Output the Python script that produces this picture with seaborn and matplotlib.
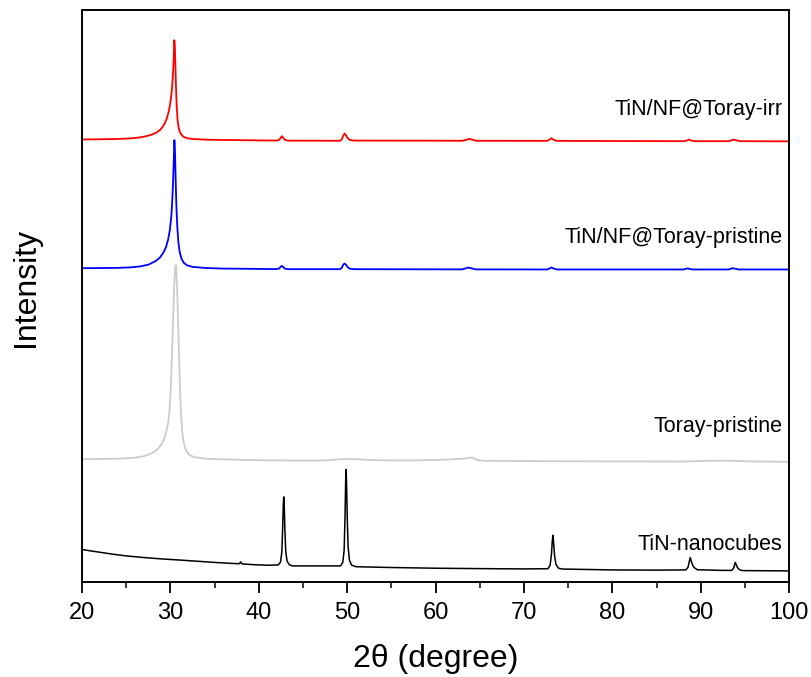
import numpy as np
import pandas as pd
import matplotlib
matplotlib.use("Agg")
import matplotlib.pyplot as plt
from matplotlib.ticker import MultipleLocator
import seaborn as sns

# ------------------------------------------------------------------
# Data (2theta in degree, intensity in arbitrary offset units)
# ------------------------------------------------------------------
tt_irr = [20.0, 22.0, 24.0, 25.5, 26.5, 27.3, 27.9, 28.4, 28.8, 29.1, 29.4, 29.6,
          29.8, 29.95, 30.1, 30.2, 30.3, 30.38, 30.44, 30.5, 30.56, 30.62, 30.7, 30.8,
          30.92, 31.05, 31.25, 31.5, 31.9, 32.5, 34.0, 36.0,
          42.0, 42.3, 42.45, 42.6, 42.75, 42.95, 43.3,
          49.2, 49.4, 49.55, 49.7, 49.85, 50.05, 50.3, 50.8,
          63.0, 63.5, 63.8, 64.1, 64.6,
          72.6, 72.9, 73.1, 73.3, 73.7,
          88.2, 88.5, 88.65, 88.85, 89.2,
          93.2, 93.5, 93.75, 94.0, 94.4, 100.0]
int_irr = [442.7, 442.9, 443.2, 443.8, 444.7, 446.0, 447.6, 449.5, 452.0, 455.0, 459.5, 464.0,
           470.5, 477.0, 487.0, 496.0, 510.0, 526.0, 542.0, 536.0, 518.0, 498.0, 478.0, 463.0,
           455.0, 450.5, 447.3, 445.3, 444.0, 443.2, 442.5, 442.2,
           441.6, 442.3, 444.0, 446.0, 444.5, 442.3, 441.5,
           441.4, 443.0, 446.5, 448.7, 447.0, 444.0, 442.2, 441.6,
           441.4, 442.4, 443.3, 442.6, 441.4,
           441.3, 442.6, 444.0, 442.6, 441.3,
           441.0, 442.0, 442.6, 441.9, 441.0,
           441.0, 442.0, 442.6, 441.9, 441.0, 440.8]

tt_pris = [20.0, 24.0, 25.5, 26.6, 27.5, 28.3, 28.8, 29.2, 29.5, 29.75, 29.95, 30.1,
           30.2, 30.3, 30.38, 30.45, 30.52, 30.6, 30.68, 30.78, 30.9, 31.05, 31.25, 31.5,
           31.9, 32.5, 34.0, 36.0,
           42.0, 42.3, 42.45, 42.6, 42.75, 42.95, 43.3,
           49.2, 49.4, 49.55, 49.7, 49.85, 50.05, 50.3, 50.8,
           63.0, 63.4, 63.7, 64.0, 64.5,
           72.6, 72.9, 73.1, 73.3, 73.7,
           88.0, 88.3, 88.5, 88.7, 89.0,
           93.1, 93.4, 93.6, 93.85, 94.3, 100.0]
int_pris = [314.0, 314.3, 314.8, 315.8, 317.5, 321.0, 324.5, 329.5, 335.0, 343.0, 353.0, 366.0,
            380.0, 400.0, 422.0, 442.0, 430.0, 400.0, 375.0, 355.0, 340.0, 330.0, 323.5, 319.5,
            316.8, 315.3, 314.2, 313.6,
            313.1, 313.7, 315.2, 316.3, 315.3, 313.6, 313.0,
            313.0, 314.6, 317.5, 318.7, 317.6, 315.0, 313.4, 313.0,
            312.8, 313.8, 314.6, 314.0, 312.8,
            312.7, 313.8, 314.7, 313.8, 312.7,
            312.7, 313.3, 313.8, 313.4, 312.7,
            312.7, 313.4, 314.0, 313.5, 312.7, 312.7]

tt_toray = [20.0, 24.0, 26.0, 27.2, 28.0, 28.6, 29.0, 29.3, 29.55, 29.75, 29.9, 30.05,
            30.15, 30.25, 30.35, 30.45, 30.55, 30.62, 30.7, 30.8, 30.9, 31.0, 31.1, 31.2,
            31.32, 31.5, 31.75, 32.1, 32.7, 34.0, 36.0, 40.0, 45.0, 47.5, 49.0, 50.0,
            51.0, 53.0, 57.0, 61.0, 63.0, 63.7, 64.0, 64.3, 64.7, 65.5, 75.0, 88.0,
            90.5, 93.0, 95.5, 100.0]
int_toray = [123.0, 123.5, 124.5, 126.5, 129.5, 133.5, 138.0, 144.0, 151.0, 160.0, 172.0, 195.0,
             220.0, 248.0, 275.0, 300.0, 316.0, 317.0, 305.0, 282.0, 250.0, 218.0, 190.0, 168.0,
             152.0, 140.0, 132.0, 127.5, 125.0, 123.5, 122.8, 122.0, 121.6, 121.8, 122.8, 123.2,
             123.0, 122.0, 121.7, 122.5, 123.4, 124.2, 124.5, 124.0, 122.3, 121.4, 120.9, 120.7,
             121.3, 121.6, 120.8, 120.4]

tt_tin = [20.0, 21.0, 22.0, 23.5, 25.0, 27.0, 29.0, 31.0, 33.0, 35.0, 37.0, 37.8,
          37.95, 38.1, 39.5, 41.0,
          42.2, 42.45, 42.6, 42.7, 42.77, 42.82, 42.88, 42.95, 43.05, 43.2, 43.45, 43.8,
          49.25, 49.5, 49.65, 49.75, 49.82, 49.86, 49.92, 50.0, 50.1, 50.25, 50.5, 51.0,
          55.0, 60.0, 65.0, 70.0,
          72.7, 72.95, 73.1, 73.2, 73.26, 73.33, 73.45, 73.6, 73.9, 74.3,
          80.0, 85.0,
          88.3, 88.55, 88.7, 88.8, 88.92, 89.05, 89.25, 89.6,
          92.0, 93.5, 93.7, 93.83, 93.9, 94.0, 94.15, 94.4, 94.8, 97.0, 100.0]
int_tin = [32.7, 31.3, 30.0, 28.0, 26.3, 24.7, 23.3, 22.2, 21.0, 19.8, 18.8, 18.5,
           20.3, 18.3, 17.5, 17.0,
           17.3, 20.0, 30.0, 55.0, 78.0, 85.3, 75.0, 52.0, 30.0, 21.0, 17.5, 16.3,
           16.3, 20.0, 32.0, 65.0, 100.0, 112.7, 100.0, 65.0, 35.0, 22.0, 17.0, 15.5,
           14.7, 14.0, 13.6, 13.3,
           13.5, 17.0, 28.0, 42.0, 47.0, 41.0, 27.0, 18.0, 14.0, 13.2,
           12.3, 12.1,
           12.3, 15.0, 21.0, 24.7, 21.0, 17.5, 14.5, 12.5,
           11.9, 11.8, 14.0, 18.0, 19.7, 17.5, 14.5, 12.3, 11.6, 11.5, 11.3]

samples = ["TiN/NF@Toray-irr", "TiN/NF@Toray-pristine", "Toray-pristine", "TiN-nanocubes"]
colors = ["#ff0000", "#0000ff", "#cccccc", "#000000"]
label_y = [467, 339, 150, 32]

# ------------------------------------------------------------------
# Long table for seaborn
# ------------------------------------------------------------------
frames = []
for name, tt, it in zip(samples, [tt_irr, tt_pris, tt_toray, tt_tin],
                        [int_irr, int_pris, int_toray, int_tin]):
    frames.append(pd.DataFrame({"two_theta": tt, "intensity": it, "sample": name}))
df = pd.concat(frames, ignore_index=True)

# ------------------------------------------------------------------
# Plot
# ------------------------------------------------------------------
sns.set_theme(style="ticks")
plt.rcParams["font.family"] = ["Liberation Sans", "DejaVu Sans"]

fig = plt.figure(figsize=(8.12, 6.77), dpi=100)
ax = fig.add_axes([0.101, 0.140, 0.871, 0.845])

sns.lineplot(data=df, x="two_theta", y="intensity", hue="sample",
             palette=dict(zip(samples, colors)), estimator=None, sort=False,
             linewidth=1.3, legend=False, ax=ax)
# the TiN trace is drawn a bit thinner in the original
ax.lines[3].set_linewidth(1.1)

for name, yy in zip(samples, label_y):
    ax.text(99.2, yy, name, ha="right", va="baseline", fontsize=15.5, color="black")

ax.set_xlim(20, 100)
ax.set_ylim(0, 572)
ax.xaxis.set_major_locator(MultipleLocator(10))
ax.xaxis.set_minor_locator(MultipleLocator(5))
ax.set_yticks([])
ax.tick_params(axis="x", which="major", direction="out", length=8, width=1.3,
               labelsize=17, colors="black", pad=6)
ax.tick_params(axis="x", which="minor", direction="out", length=4.5, width=1.3)
for sp in ax.spines.values():
    sp.set_visible(True)
    sp.set_linewidth(1.4)
    sp.set_color("black")

ax.set_xlabel("2θ (degree)", fontsize=23, labelpad=15, color="black")
ax.set_ylabel("Intensity", fontsize=23, color="black")
ax.yaxis.set_label_coords(-0.058, 0.516)

fig.savefig("out.png", dpi=100)
